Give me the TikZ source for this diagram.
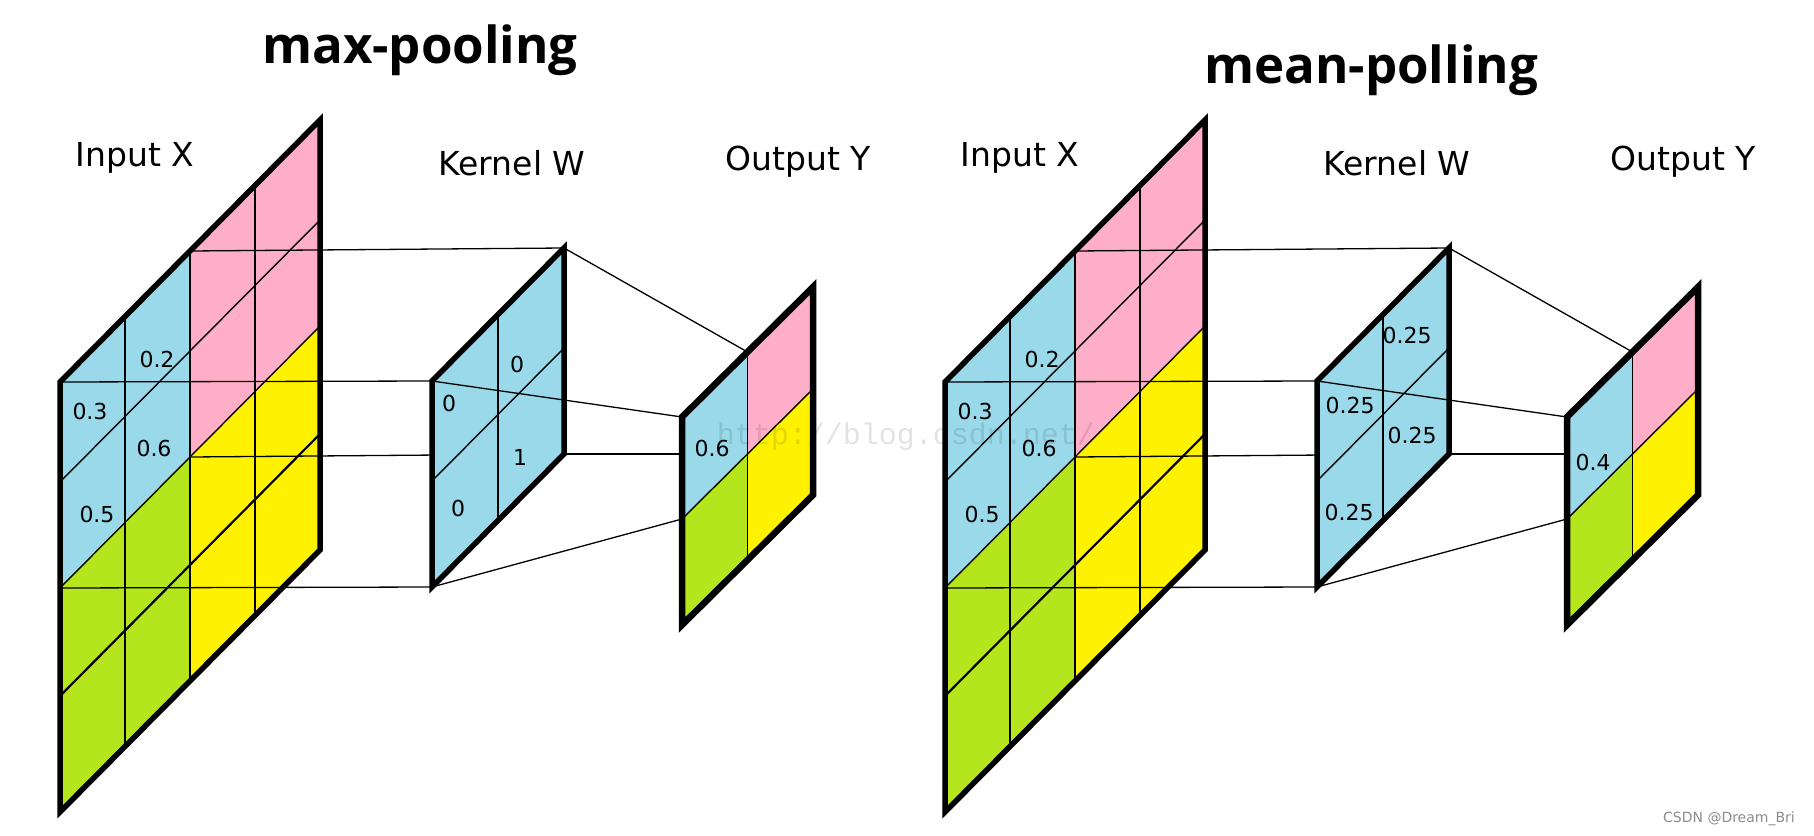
\documentclass[tikz,border=0pt]{standalone}
\usepackage{fontspec}
\setmainfont{DejaVu Sans}
\newfontfamily\titlefont{Open Sans}
\newfontfamily\markfont{Liberation Mono}

\definecolor{cellblue}{RGB}{153,217,234}
\definecolor{cellpink}{RGB}{255,174,201}
\definecolor{cellyellow}{RGB}{255,242,0}
\definecolor{cellgreen}{RGB}{181,230,29}

\tikzset{
  border/.style={line width=5.5pt},
  gridline/.style={line width=1.4pt},
  link/.style={line width=1.3pt},
  val/.style={font=\fontsize{22}{24}\selectfont, inner sep=0pt},
  caption/.style={font=\fontsize{33}{36}\selectfont, inner sep=0pt},
  headline/.style={font=\titlefont\bfseries\fontsize{51}{56}\selectfont, inner sep=0pt, anchor=base},
  inputframe/.style={shift={(60+#1,382)}, x={(65pt,65.5pt)}, y={(0pt,-1pt)}},
  kernelframe/.style={shift={(432+#1,381)}, x={(66pt,66.5pt)}, y={(0pt,-1pt)}},
  outputframe/.style={shift={(682+#1,417)}, x={(65.5pt,65pt)}, y={(0pt,-1pt)}},
}

\begin{document}
\begin{tikzpicture}[x=1pt,y=-1pt]
      \useasboundingbox[fill=white] (0,0) rectangle (1814,835);

      \foreach \dx [count=\k] in {0,885} {
        % input X
        \begin{scope}[inputframe=\dx]
          \fill[cellblue] (0,0) -- (2,0) -- (2,206) -- (0,206) -- cycle;
          \fill[cellpink] (2,0) -- (4,0) -- (4,206) -- (2,206) -- cycle;
          \fill[cellgreen] (0,206) -- (2,206) -- (2,430) -- (0,430) -- cycle;
          \fill[cellyellow] (2,206) -- (4,206) -- (4,430) -- (2,430) -- cycle;
          \foreach \c in {1,2,3}
            \draw[gridline] (\c,0) -- (\c,430);
          \draw[gridline] (0,100) -- (4,100);
          \draw[gridline] (0,206) -- (4,206);
          \draw[line width=2.2pt] (0,314) -- (4,314);
          \draw[border] (0,0) -- (4,0) -- (4,430) -- (0,430) -- cycle;
          \coordinate (in\k-a) at (0,0);
          \coordinate (in\k-b) at (2,0);
          \coordinate (in\k-c) at (2,206);
          \coordinate (in\k-d) at (0,206);
        \end{scope}

        \begin{scope}[kernelframe=\dx]
          \coordinate (ker\k-a) at (0,0);
          \coordinate (ker\k-b) at (2,0);
          \coordinate (ker\k-c) at (2,206);
          \coordinate (ker\k-d) at (0,206);
        \end{scope}

        \begin{scope}[outputframe=\dx]
          \coordinate (out\k-a) at (0,0);
          \coordinate (out\k-b) at (1,0);
          \coordinate (out\k-c) at (1,102);
          \coordinate (out\k-d) at (0,102);
        \end{scope}

        \draw[link] (in\k-a) -- (ker\k-a);
        \draw[link] (in\k-b) -- (ker\k-b);
        \draw[link] (in\k-c) -- (ker\k-c);
        \draw[link] (in\k-d) -- (ker\k-d);

        % kernel W
        \begin{scope}[kernelframe=\dx]
          \fill[cellblue] (0,0) -- (2,0) -- (2,206) -- (0,206) -- cycle;
          \draw[gridline] (1,0) -- (1,206);
          \draw[gridline] (0,100) -- (2,100);
          \draw[border] (0,0) -- (2,0) -- (2,206) -- (0,206) -- cycle;
        \end{scope}

        \draw[link] (ker\k-a) -- (out\k-a);
        \draw[link] (ker\k-b) -- (out\k-b);
        \draw[link] (ker\k-c) -- (out\k-c);
        \draw[link] (ker\k-d) -- (out\k-d);

        % output Y
        \begin{scope}[outputframe=\dx]
          \fill[cellblue] (0,0) -- (1,0) -- (1,102) -- (0,102) -- cycle;
          \fill[cellpink] (1,0) -- (2,0) -- (2,102) -- (1,102) -- cycle;
          \fill[cellgreen] (0,102) -- (1,102) -- (1,208) -- (0,208) -- cycle;
          \fill[cellyellow] (1,102) -- (2,102) -- (2,208) -- (1,208) -- cycle;
          \draw[gridline] (1,0) -- (1,208);
          \draw[gridline] (0,102) -- (2,102);
          \draw[line width=6.5pt] (0,0) -- (2,0) -- (2,208) -- (0,208) -- cycle;
        \end{scope}
      }

      \node[headline] (maxtitle) at (420,63) {max-pooling};
      \node[headline] (meantitle) at (1371,83) {mean-polling};

      \node[caption] (maxinput) at (135,158) {Input X};
      \node[caption] (maxkernel) at (512,163) {Kernel W};
      \node[caption] (maxoutput) at (798,162) {Output Y};
      \node[caption] (meaninput) at (1020,158) {Input X};
      \node[caption] (meankernel) at (1397,163) {Kernel W};
      \node[caption] (meanoutput) at (1683,162) {Output Y};

      \node[val] (maxx-a) at (157,359) {0.2};
      \node[val] (maxx-b) at (90,411) {0.3};
      \node[val] (maxx-c) at (154,448) {0.6};
      \node[val] (maxx-d) at (97,514) {0.5};
      \node[val] (maxw-a) at (449,403) {0};
      \node[val] (maxw-b) at (517,364) {0};
      \node[val] (maxw-c) at (520,457) {1};
      \node[val] (maxw-d) at (458,508) {0};
      \node[val] (maxy) at (712,448) {0.6};

      \node[val] (meanx-a) at (1042,359) {0.2};
      \node[val] (meanx-b) at (975,411) {0.3};
      \node[val] (meanx-c) at (1039,448) {0.6};
      \node[val] (meanx-d) at (982,514) {0.5};
      \node[val] (meanw-a) at (1350,405) {0.25};
      \node[val] (meanw-b) at (1407,335) {0.25};
      \node[val] (meanw-c) at (1412,435) {0.25};
      \node[val] (meanw-d) at (1349,512) {0.25};
      \node[val] (meany) at (1593,462) {0.4};

      \node[font=\markfont\fontsize{30}{32}\selectfont, text=black, text opacity=0.11, inner sep=0pt] (mark) at (906,437) {http://blog.csdn.net/};
      \node[font=\fontsize{14}{16}\selectfont, text=black!45, inner sep=0pt, anchor=east] (credit) at (1795,819) {CSDN @Dream\_Bri};

      % \draw[red] (0,0) grid[step=100] (1814,835);
    \end{tikzpicture}
\end{document}
